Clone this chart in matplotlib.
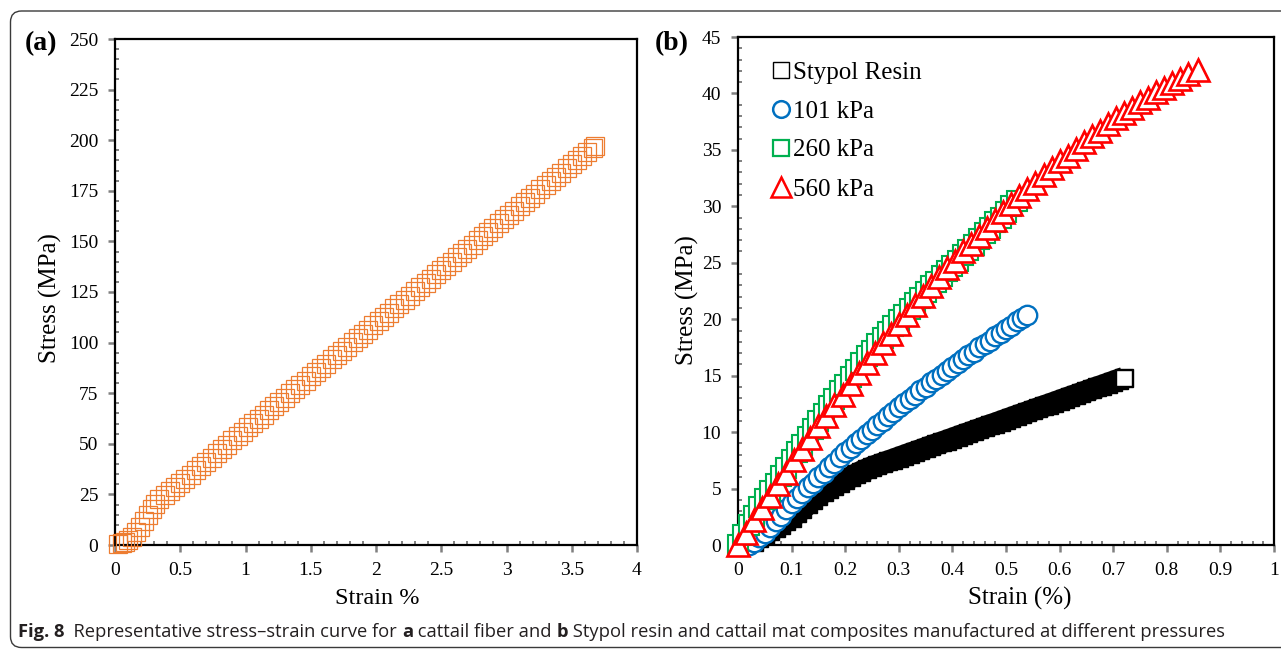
import matplotlib
matplotlib.use('Agg')
import matplotlib.pyplot as plt
from matplotlib.lines import Line2D
from matplotlib.patches import FancyBboxPatch
from matplotlib.transforms import IdentityTransform
from matplotlib.ticker import MultipleLocator, FuncFormatter

# (a) cattail fiber
strain_fiber = [0.02, 0.05, 0.08, 0.10, 0.13, 0.16, 0.19, 0.22, 0.25, 0.28, 0.31, 0.34, 0.38, 0.42, 0.46,
                0.50, 0.54, 0.58, 0.62, 0.66, 0.70, 0.74, 0.78, 0.82, 0.86, 0.90, 0.94, 0.98,
                1.02, 1.06, 1.10, 1.14, 1.18, 1.22, 1.26, 1.30, 1.34, 1.38, 1.42, 1.46, 1.50,
                1.54, 1.58, 1.62, 1.66, 1.70, 1.74, 1.78, 1.82, 1.86, 1.90, 1.94, 1.98,
                2.02, 2.06, 2.10, 2.14, 2.18, 2.22, 2.26, 2.30, 2.34, 2.38, 2.42, 2.46, 2.50,
                2.54, 2.58, 2.62, 2.66, 2.70, 2.74, 2.78, 2.82, 2.86, 2.90, 2.94, 2.98,
                3.02, 3.06, 3.10, 3.14, 3.18, 3.22, 3.26, 3.30, 3.34, 3.38, 3.42, 3.46, 3.50,
                3.54, 3.58, 3.62, 3.66, 3.68]
stress_fiber = [0.5, 0.8, 1.5, 2.5, 4.0, 6.5, 9.0, 12.0, 15.0, 18.0, 20.5, 22.5, 24.5, 26.5, 28.5,
                30.5, 32.6, 34.7, 36.9, 39.0, 41.1, 43.2, 45.3, 47.5, 49.6, 51.7, 53.8, 55.9,
                58.1, 60.2, 62.3, 64.4, 66.5, 68.6, 70.7, 72.8, 74.9, 77.0, 79.1, 81.2, 83.3,
                85.4, 87.5, 89.6, 91.7, 93.8, 95.9, 98.0, 100.1, 102.2, 104.3, 106.4, 108.5,
                110.6, 112.7, 114.8, 116.9, 119.0, 121.1, 123.2, 125.3, 127.4, 129.5, 131.6, 133.7, 135.8,
                137.9, 140.0, 142.1, 144.2, 146.3, 148.4, 150.5, 152.6, 154.7, 156.8, 158.9, 161.0,
                163.1, 165.2, 167.3, 169.4, 171.5, 173.6, 175.7, 177.8, 179.9, 182.0, 184.0, 186.1, 188.1,
                190.1, 192.1, 194.0, 196.0, 197.2]

# (b) Stypol resin and mats
strain_resin = [0.03, 0.04, 0.05, 0.06, 0.07, 0.08, 0.09, 0.10, 0.11, 0.12,
                0.13, 0.14, 0.15, 0.16, 0.17, 0.18, 0.19, 0.20, 0.21, 0.22,
                0.23, 0.24, 0.25, 0.26, 0.27, 0.28, 0.29, 0.30, 0.31, 0.32,
                0.33, 0.34, 0.35, 0.36, 0.37, 0.38, 0.39, 0.40, 0.41, 0.42,
                0.43, 0.44, 0.45, 0.46, 0.47, 0.48, 0.49, 0.50, 0.51, 0.52,
                0.53, 0.54, 0.55, 0.56, 0.57, 0.58, 0.59, 0.60, 0.61, 0.62,
                0.63, 0.64, 0.65, 0.66, 0.67, 0.68, 0.69, 0.70, 0.71, 0.72]
stress_resin = [0.3, 0.6, 0.9, 1.2, 1.5, 1.8, 2.1, 2.4, 2.8, 3.2,
                3.6, 4.0, 4.35, 4.7, 5.0, 5.25, 5.5, 5.75, 6.0, 6.25,
                6.5, 6.7, 6.9, 7.07, 7.24, 7.40, 7.57, 7.74, 7.91, 8.08,
                8.24, 8.41, 8.58, 8.75, 8.92, 9.08, 9.25, 9.42, 9.59, 9.76,
                9.92, 10.09, 10.26, 10.43, 10.60, 10.76, 10.93, 11.10, 11.27, 11.44,
                11.60, 11.77, 11.94, 12.11, 12.28, 12.44, 12.61, 12.78, 12.95, 13.12,
                13.28, 13.45, 13.62, 13.79, 13.96, 14.12, 14.29, 14.46, 14.63, 14.80]

strain_101 = [0.02, 0.03, 0.04, 0.05, 0.06, 0.07, 0.08, 0.09,
              0.10, 0.11, 0.12, 0.13, 0.14, 0.15, 0.16, 0.17, 0.18, 0.19,
              0.20, 0.21, 0.22, 0.23, 0.24, 0.25, 0.26, 0.27, 0.28, 0.29,
              0.30, 0.31, 0.32, 0.33, 0.34, 0.35, 0.36, 0.37, 0.38, 0.39,
              0.40, 0.41, 0.42, 0.43, 0.44, 0.45, 0.46, 0.47, 0.48, 0.49,
              0.50, 0.51, 0.52, 0.53, 0.54]
stress_101 = [0.0, 0.3, 0.7, 1.1, 1.6, 2.1, 2.6, 3.2,
              3.7, 4.2, 4.6, 5.1, 5.5, 6.0, 6.4, 6.9, 7.3, 7.8,
              8.2, 8.6, 9.0, 9.4, 9.8, 10.2, 10.6, 11.0, 11.4, 11.8,
              12.2, 12.6, 12.9, 13.3, 13.7, 14.0, 14.4, 14.7, 15.1, 15.4,
              15.8, 16.1, 16.5, 16.8, 17.1, 17.5, 17.8, 18.1, 18.5, 18.8,
              19.1, 19.4, 19.8, 20.1, 20.4]

strain_260 = [0.00, 0.01, 0.02, 0.03, 0.04, 0.05, 0.06, 0.07, 0.08, 0.09,
              0.10, 0.11, 0.12, 0.13, 0.14, 0.15, 0.16, 0.17, 0.18, 0.19,
              0.20, 0.21, 0.22, 0.23, 0.24, 0.25, 0.26, 0.27, 0.28, 0.29,
              0.30, 0.31, 0.32, 0.33, 0.34, 0.35, 0.36, 0.37, 0.38, 0.39,
              0.40, 0.41, 0.42, 0.43, 0.44, 0.45, 0.46, 0.47, 0.48, 0.49,
              0.50, 0.51, 0.52]
stress_260 = [0.0, 0.9, 1.8, 2.6, 3.4, 4.1, 4.8, 5.4, 6.1, 6.8,
              7.5, 8.2, 8.9, 9.6, 10.3, 11.0, 11.6, 12.3, 12.9, 13.6,
              14.2, 14.9, 15.5, 16.1, 16.7, 17.2, 17.8, 18.3, 18.9, 19.4,
              19.9, 20.4, 20.9, 21.4, 21.9, 22.4, 22.9, 23.3, 23.8, 24.3,
              24.7, 25.2, 25.7, 26.1, 26.6, 27.1, 27.6, 28.1, 28.6, 29.0,
              29.5, 30.0, 30.5]

strain_560 = [0.000, 0.015, 0.030, 0.045, 0.060, 0.075, 0.090, 0.105, 0.120, 0.135,
              0.150, 0.165, 0.180, 0.195, 0.210, 0.225, 0.240, 0.255, 0.270, 0.285,
              0.300, 0.315, 0.330, 0.345, 0.360, 0.375, 0.390, 0.405, 0.420, 0.435,
              0.450, 0.465, 0.480, 0.495, 0.510, 0.525, 0.540, 0.555, 0.570, 0.585,
              0.600, 0.615, 0.630, 0.645, 0.660, 0.675, 0.690, 0.705, 0.720, 0.735,
              0.750, 0.765, 0.780, 0.795, 0.810, 0.825, 0.840, 0.858]
stress_560 = [0.0, 1.1, 2.2, 3.3, 4.3, 5.4, 6.4, 7.5, 8.5, 9.5,
              10.5, 11.4, 12.4, 13.3, 14.3, 15.2, 16.1, 17.0, 17.9, 18.7,
              19.6, 20.4, 21.3, 22.1, 22.9, 23.7, 24.5, 25.2, 26.0, 26.7,
              27.4, 28.1, 28.8, 29.5, 30.2, 30.9, 31.5, 32.1, 32.8, 33.4,
              34.0, 34.5, 35.1, 35.7, 36.2, 36.7, 37.3, 37.8, 38.3, 38.7,
              39.2, 39.6, 40.1, 40.5, 40.9, 41.3, 41.7, 42.1]

ORANGE = '#ED7D31'
BLUE = '#0070C0'
GREEN = '#00B050'
RED = '#FF0000'
TICK_GREY = '#808080'

plt.rcParams['font.family'] = ['Liberation Serif', 'DejaVu Serif']

W, H = 1281, 650
fig = plt.figure(figsize=(W / 100, H / 100), dpi=100)


def px_axes(left, top, right, bottom):
    return fig.add_axes([left / W, 1 - bottom / H, (right - left) / W, (bottom - top) / H])


def style_axes(ax, xmaj, ymaj):
    for sp in ax.spines.values():
        sp.set_linewidth(1.6)
        sp.set_color('black')
    ax.xaxis.set_major_locator(MultipleLocator(xmaj))
    ax.yaxis.set_major_locator(MultipleLocator(ymaj))
    ax.xaxis.set_minor_locator(MultipleLocator(xmaj / 5))
    ax.yaxis.set_minor_locator(MultipleLocator(ymaj / 5))
    fmt = FuncFormatter(lambda v, p: '%g' % round(v, 6))
    ax.xaxis.set_major_formatter(fmt)
    ax.yaxis.set_major_formatter(fmt)
    ax.tick_params(which='major', direction='out', length=5, width=1.8, color=TICK_GREY,
                   labelsize=14, pad=7)
    ax.tick_params(which='minor', direction='in', length=3, width=1.4, color=TICK_GREY)


ax1 = px_axes(115, 39, 637, 545)
ax2 = px_axes(738, 37, 1274, 545)

# panel (a)
ax1.plot(strain_fiber, stress_fiber, ls='none', marker='s', ms=13, mfc='none',
         mec=ORANGE, mew=0.9, clip_on=False, zorder=3)
ax1.set_xlim(0, 4)
ax1.set_ylim(0, 250)
style_axes(ax1, 0.5, 25)

# panel (b): the resin points are so dense they merge into a solid band
ax2.plot(strain_resin, stress_resin, ls='-', lw=16, color='black', marker='s', ms=13,
         mfc='black', mec='black', mew=1, solid_capstyle='butt', clip_on=False, zorder=3)
ax2.plot(strain_resin[-1:], stress_resin[-1:], ls='none', marker='s', ms=11, mfc='white',
         mec='black', mew=1, clip_on=False, zorder=3)
ax2.plot(strain_101, stress_101, ls='none', marker='o', ms=14, mfc='white',
         mec=BLUE, mew=1.7, clip_on=False, zorder=4)
ax2.plot(strain_260, stress_260, ls='none', marker='s', ms=15, mfc='white',
         mec=GREEN, mew=1.5, clip_on=False, zorder=5)
ax2.plot(strain_560, stress_560, ls='none', marker='^', ms=16, mfc='white',
         mec=RED, mew=1.9, clip_on=False, zorder=6)
ax2.set_xlim(0, 1)
ax2.set_ylim(0, 45)
style_axes(ax2, 0.1, 5)

handles = [
    Line2D([], [], ls='none', marker='s', ms=11, mfc='white', mec='black', mew=1, label='Stypol Resin'),
    Line2D([], [], ls='none', marker='o', ms=12, mfc='white', mec=BLUE, mew=1.8, label='101 kPa'),
    Line2D([], [], ls='none', marker='s', ms=11.5, mfc='white', mec=GREEN, mew=1.6, label='260 kPa'),
    Line2D([], [], ls='none', marker='^', ms=14, mfc='white', mec=RED, mew=1.8, label='560 kPa'),
]
ax2.legend(handles=handles, loc='upper left', bbox_to_anchor=(774 / W, 1 - 61 / H),
           bbox_transform=fig.transFigure, frameon=False, fontsize=18, handlelength=0.55,
           handletextpad=0.2, labelspacing=0.66, borderpad=0, borderaxespad=0)

# axis titles and panel letters
fig.text(377 / W, 1 - 598 / H, 'Strain %', fontsize=17.5, ha='center', va='center')
fig.text(1020 / W, 1 - 598 / H, 'Strain (%)', fontsize=18, ha='center', va='center')
fig.text(50 / W, 1 - 298 / H, 'Stress (MPa)', fontsize=18, ha='center', va='center', rotation=90)
fig.text(687 / W, 1 - 300 / H, 'Stress (MPa)', fontsize=18, ha='center', va='center', rotation=90)
fig.text(41 / W, 1 - 44 / H, '(a)', fontsize=20, fontweight='bold', ha='center', va='center')
fig.text(672 / W, 1 - 44 / H, '(b)', fontsize=20, fontweight='bold', ha='center', va='center')

# rounded frame around the figure
frame = FancyBboxPatch((10.5, 2.5), 1330, 636.5, boxstyle='round,pad=0,rounding_size=11',
                       transform=IdentityTransform(), fill=False, ec='#3a3a3a', lw=1.0)
fig.patches.append(frame)

# caption, built from bold and regular pieces
caption = [('Fig. 8', 'bold'), ('  Representative stress\u2013strain curve for ', 'normal'),
           ('a', 'bold'), (' cattail fiber and ', 'normal'), ('b', 'bold'),
           (' Stypol resin and cattail mat composites manufactured at different pressures', 'normal')]
renderer = fig.canvas.get_renderer()


def place_caption(size):
    x = 18.0
    items = []
    for txt, wt in caption:
        t = fig.text(x / W, 1 - 637 / H, txt, fontsize=size, fontweight=wt, va='baseline',
                     ha='left', color='#231f20', family=['Open Sans', 'DejaVu Sans'])
        x += t.get_window_extent(renderer).width
        items.append(t)
    return items, x - 18.0


items, width = place_caption(12)
for t in items:
    t.remove()
place_caption(12 * 1199 / width)

fig.savefig('out.png', dpi=100)
